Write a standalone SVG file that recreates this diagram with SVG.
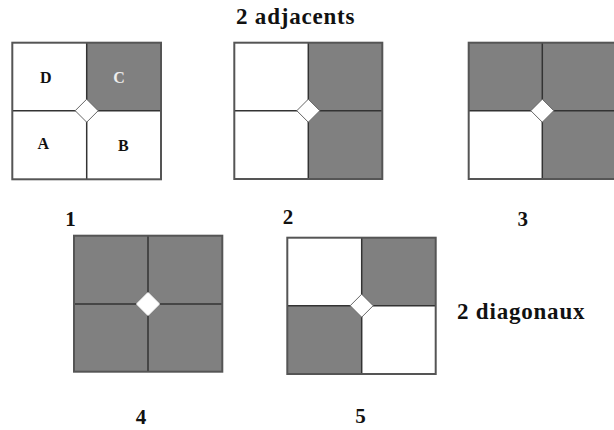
<svg xmlns="http://www.w3.org/2000/svg" width="614" height="430" viewBox="0 0 614 430">
<style>
.t{font-family:'Liberation Serif','Times New Roman','DejaVu Serif',Times,serif;font-weight:bold;fill:#111}
.h{font-size:23px;letter-spacing:0.8px}
.n{font-size:21px;text-anchor:middle}
.l{font-size:16px;text-anchor:middle}
.w{fill:#ffffff}
.g{fill:#808080}
.ln{stroke:#333;stroke-width:1.5;fill:none}
.bd{stroke:#555;stroke-width:2;fill:none}
.dm{fill:#fff;stroke:#666;stroke-width:1}
</style>
<rect width="614" height="430" fill="#fff"/>
<g font-family="Liberation Serif, DejaVu Serif, serif">
<text class="t h" x="236" y="24">2 adjacents</text>
<text class="t h" x="457" y="319">2 diagonaux</text>
</g>

<g id="square1" font-family="Liberation Serif, DejaVu Serif, serif">
<rect class="w" x="12.3" y="42.7" width="74.4" height="68"/>
<rect class="g" x="86.7" y="42.7" width="74.3" height="68"/>
<rect class="w" x="12.3" y="110.7" width="74.4" height="68.6"/>
<rect class="w" x="86.7" y="110.7" width="74.3" height="68.6"/>
<line class="ln" x1="86.7" y1="42.7" x2="86.7" y2="179.3"/>
<line class="ln" x1="12.3" y1="110.7" x2="161" y2="110.7" stroke="#666"/>
<rect class="bd" x="12.3" y="42.7" width="148.7" height="136.6"/>
<polygon class="dm" points="86.7,99.2 98.2,110.7 86.7,122.2 75.2,110.7"/>
<text class="t l" x="45.7" y="82.5">D</text>
<text class="t l" x="119" y="82.5" style="fill:#eeeeee">C</text>
<text class="t l" x="43.3" y="148.5">A</text>
<text class="t l" x="123.3" y="151">B</text>
<text class="t n" x="70.5" y="226">1</text>
</g>

<g id="square2" font-family="Liberation Serif, DejaVu Serif, serif">
<rect class="w" x="234.3" y="42.7" width="74" height="136.3"/>
<rect class="g" x="308.3" y="42.7" width="74" height="136.3"/>
<line class="ln" x1="308.3" y1="42.7" x2="308.3" y2="179"/>
<line class="ln" x1="234.3" y1="110.7" x2="382.3" y2="110.7" stroke="#666"/>
<rect class="bd" x="234.3" y="42.7" width="148" height="136.3"/>
<polygon class="dm" points="308.3,99.2 319.8,110.7 308.3,122.2 296.8,110.7"/>
<text class="t n" x="288" y="224">2</text>
</g>

<g id="square3" font-family="Liberation Serif, DejaVu Serif, serif">
<rect class="g" x="468.7" y="42.7" width="147.3" height="136.3"/>
<rect class="w" x="468.7" y="110.7" width="73.6" height="68.3"/>
<line class="ln" x1="542.3" y1="42.7" x2="542.3" y2="179"/>
<line class="ln" x1="468.7" y1="110.7" x2="616" y2="110.7"/>
<rect class="bd" x="468.7" y="42.7" width="147.3" height="136.3"/>
<polygon class="dm" points="542.3,99.2 553.8,110.7 542.3,122.2 530.8,110.7"/>
<text class="t n" x="522.7" y="226">3</text>
</g>

<g id="square4" font-family="Liberation Serif, DejaVu Serif, serif">
<rect class="g" x="74" y="235.7" width="148.3" height="136"/>
<line class="ln" x1="148" y1="235.7" x2="148" y2="371.7"/>
<line class="ln" x1="74" y1="304" x2="222.3" y2="304"/>
<rect class="bd" x="74" y="235.7" width="148.3" height="136"/>
<polygon class="dm" points="148,292.5 159.5,304 148,315.5 136.5,304" style="stroke:#fff"/>
<text class="t n" x="141" y="424">4</text>
</g>

<g id="square5" font-family="Liberation Serif, DejaVu Serif, serif">
<rect class="w" x="287.3" y="237.7" width="74.4" height="68"/>
<rect class="g" x="361.7" y="237.7" width="74" height="68"/>
<rect class="g" x="287.3" y="305.7" width="74.4" height="68.3"/>
<rect class="w" x="361.7" y="305.7" width="74" height="68.3"/>
<line class="ln" x1="361.7" y1="237.7" x2="361.7" y2="374"/>
<line class="ln" x1="287.3" y1="305.7" x2="435.7" y2="305.7"/>
<rect class="bd" x="287.3" y="237.7" width="148.4" height="136.3"/>
<polygon class="dm" points="361.7,294.2 373.2,305.7 361.7,317.2 350.2,305.7"/>
<text class="t n" x="360.5" y="423">5</text>
</g>

<g id="connectors"></g>
</svg>
